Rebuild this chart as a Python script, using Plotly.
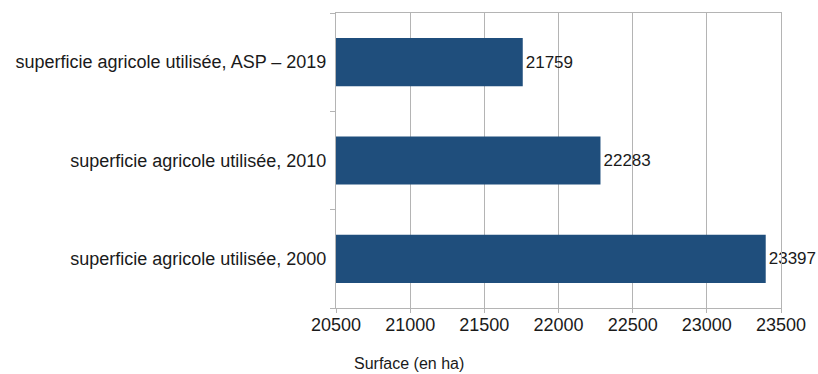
import plotly.graph_objects as go

# Surface agricole utilisée (ha)
categories = [
    "superficie agricole utilisée, 2000",
    "superficie agricole utilisée, 2010",
    "superficie agricole utilisée, ASP – 2019",
]
surface_ha = [23397, 22283, 21759]
x_ticks = [20500, 21000, 21500, 22000, 22500, 23000, 23500]

W, H = 818, 374
L, R, T, B = 336, 37, 13, 66
FONT = "Liberation Sans"
GRID = "#b4b4b4"
BAR = "#1f4e7c"
INK = "#1a1a1a"

fig = go.Figure(
    go.Bar(
        x=surface_ha,
        y=categories,
        orientation="h",
        marker=dict(color=BAR, line=dict(width=0)),
        text=[str(v) for v in surface_ha],
        textposition="outside",
        textfont=dict(family=FONT, size=17, color=INK),
        cliponaxis=False,
        width=0.49,
    )
)

fig.update_layout(
    width=W,
    height=H,
    margin=dict(l=L, r=R, t=T, b=B),
    paper_bgcolor="white",
    plot_bgcolor="white",
    showlegend=False,
    font=dict(family=FONT, size=18, color=INK),
)

fig.update_xaxes(
    range=[x_ticks[0], x_ticks[-1]],
    tickvals=x_ticks,
    ticktext=[str(v) for v in x_ticks],
    showgrid=True,
    gridcolor=GRID,
    gridwidth=1,
    zeroline=False,
    showline=True,
    linecolor=GRID,
    linewidth=1,
    mirror=True,
    ticks="outside",
    ticklen=4,
    tickcolor=GRID,
    ticklabelstandoff=-4,
    tickfont=dict(family=FONT, size=18, color=INK),
)

fig.update_yaxes(
    categoryorder="array",
    categoryarray=categories,
    showgrid=False,
    showline=True,
    linecolor=GRID,
    linewidth=1,
    mirror=True,
    ticks="outside",
    tickson="boundaries",
    ticklen=5,
    tickcolor=GRID,
    ticklabelstandoff=5,
    tickfont=dict(family=FONT, size=18, color=INK),
)

fig.add_annotation(
    text="Surface (en ha)",
    xref="paper",
    yref="paper",
    x=(352 - L) / (W - L - R),
    y=-(363 - (H - B)) / (H - T - B),
    xanchor="left",
    yanchor="middle",
    showarrow=False,
    font=dict(family=FONT, size=16, color=INK),
)

fig.write_html("out.html")
